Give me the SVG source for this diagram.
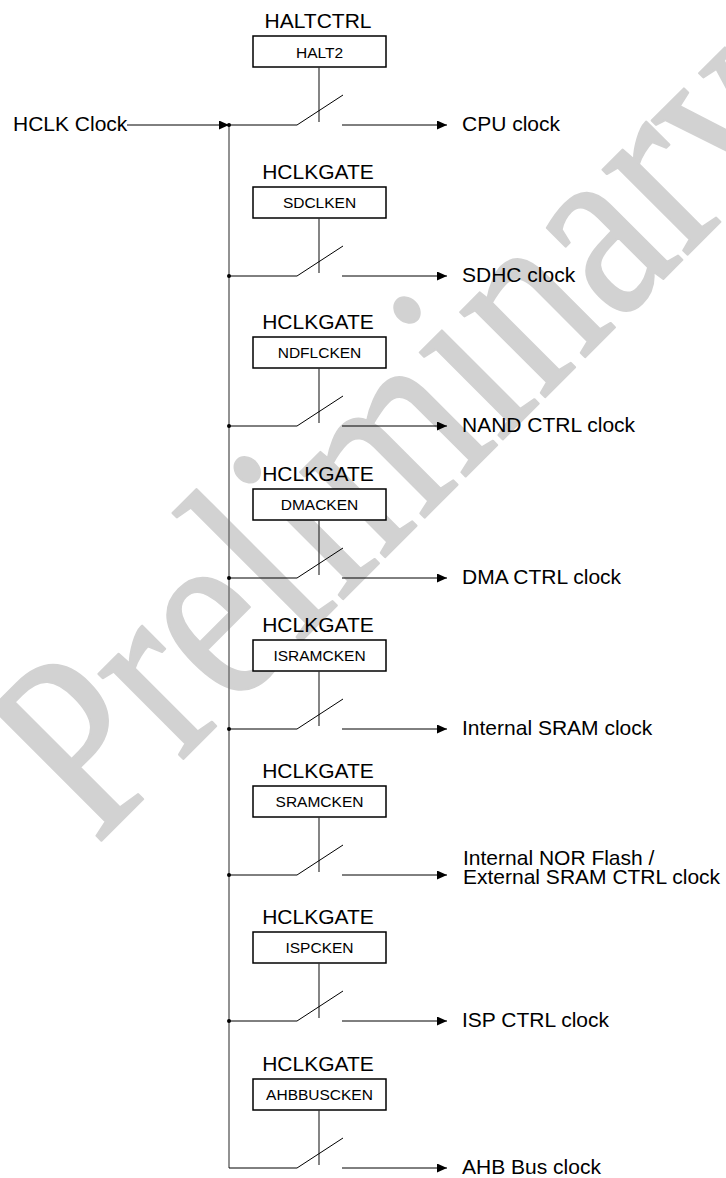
<svg xmlns="http://www.w3.org/2000/svg" width="726" height="1178" viewBox="0 0 726 1178">
<style>
text{font-family:"Liberation Sans",Arial,sans-serif;fill:#000}
.t{font-size:21px;text-anchor:middle}
.b{font-size:15.5px;text-anchor:middle}
.o{font-size:21px}
.box{fill:#fff;stroke:#000;stroke-width:1.5}
.w{stroke:#000;stroke-width:1;fill:none}
.c{stroke:#333;stroke-width:1.2;fill:none}
.bus{stroke:#777;stroke-width:1.6;fill:none}
.wm{font-family:"Liberation Serif","Times New Roman",serif;font-size:214px;fill:#d2d2d2;stroke:#d2d2d2;stroke-width:2;stroke-linejoin:round}
</style>
<defs>
<marker id="ah" markerWidth="10" markerHeight="9" refX="10" refY="4.5" orient="auto" markerUnits="userSpaceOnUse">
<path d="M0,0 L10,4.5 L0,9 Z" fill="#000"/>
</marker>
</defs>
<rect width="726" height="1178" fill="#fff"/>
<g id="watermark">
<text class="wm" transform="translate(96,846) rotate(-45) scale(1,1.22)">Preliminary</text>
</g>
<g id="connectors">
<line class="bus" x1="229" y1="125" x2="229" y2="1168"/>
<line class="w" x1="127" y1="125" x2="229" y2="125" marker-end="url(#ah)"/>
<path class="w" d="M229,1168 H297"/>
</g>
<g id="in"><text class="o" x="13" y="131">HCLK Clock</text></g>
<g id="cpu">
<text class="t" x="318" y="28">HALTCTRL</text>
<rect class="box" x="253" y="36" width="133" height="31"/>
<text class="b" x="319.5" y="57.5">HALT2</text>
<line class="c" x1="319" y1="67" x2="319" y2="122"/>
<circle cx="229" cy="125" r="2"/>
<path class="w" d="M229,125 H297 L343,95"/>
<line class="w" x1="342" y1="125" x2="447" y2="125" marker-end="url(#ah)"/>
<text class="o" x="462" y="131">CPU clock</text>
</g>
<g id="sdhc">
<text class="t" x="318" y="179">HCLKGATE</text>
<rect class="box" x="253" y="187" width="133" height="31"/>
<text class="b" x="319.5" y="208">SDCLKEN</text>
<line class="c" x1="319" y1="218" x2="319" y2="273"/>
<circle cx="229" cy="276" r="2"/>
<path class="w" d="M229,276 H297 L343,246"/>
<line class="w" x1="342" y1="276" x2="447" y2="276" marker-end="url(#ah)"/>
<text class="o" x="462" y="282">SDHC clock</text>
</g>
<g id="nand">
<text class="t" x="318" y="329">HCLKGATE</text>
<rect class="box" x="253" y="337" width="133" height="31"/>
<text class="b" x="319.5" y="358">NDFLCKEN</text>
<line class="c" x1="319" y1="368" x2="319" y2="423"/>
<circle cx="229" cy="426" r="2"/>
<path class="w" d="M229,426 H297 L343,396"/>
<line class="w" x1="342" y1="426" x2="447" y2="426" marker-end="url(#ah)"/>
<text class="o" x="462" y="432">NAND CTRL clock</text>
</g>
<g id="dma">
<text class="t" x="318" y="481">HCLKGATE</text>
<rect class="box" x="253" y="489" width="133" height="31"/>
<text class="b" x="319.5" y="510">DMACKEN</text>
<line class="c" x1="319" y1="520" x2="319" y2="575"/>
<circle cx="229" cy="578" r="2"/>
<path class="w" d="M229,578 H297 L343,548"/>
<line class="w" x1="342" y1="578" x2="447" y2="578" marker-end="url(#ah)"/>
<text class="o" x="462" y="584">DMA CTRL clock</text>
</g>
<g id="isram">
<text class="t" x="318" y="632">HCLKGATE</text>
<rect class="box" x="253" y="640" width="133" height="31"/>
<text class="b" x="319.5" y="661">ISRAMCKEN</text>
<line class="c" x1="319" y1="671" x2="319" y2="726"/>
<circle cx="229" cy="729" r="2"/>
<path class="w" d="M229,729 H297 L343,699"/>
<line class="w" x1="342" y1="729" x2="447" y2="729" marker-end="url(#ah)"/>
<text class="o" x="462" y="735">Internal SRAM clock</text>
</g>
<g id="sram">
<text class="t" x="318" y="778">HCLKGATE</text>
<rect class="box" x="253" y="786" width="133" height="31"/>
<text class="b" x="319.5" y="807">SRAMCKEN</text>
<line class="c" x1="319" y1="817" x2="319" y2="872"/>
<circle cx="229" cy="875" r="2"/>
<path class="w" d="M229,875 H297 L343,845"/>
<line class="w" x1="342" y1="875" x2="447" y2="875" marker-end="url(#ah)"/>
<text class="o" x="463" y="865">Internal NOR Flash /</text>
<text class="o" x="463" y="884">External SRAM CTRL clock</text>
</g>
<g id="isp">
<text class="t" x="318" y="924">HCLKGATE</text>
<rect class="box" x="253" y="932" width="133" height="31"/>
<text class="b" x="319.5" y="953">ISPCKEN</text>
<line class="c" x1="319" y1="963" x2="319" y2="1018"/>
<circle cx="229" cy="1021" r="2"/>
<path class="w" d="M229,1021 H297 L343,991"/>
<line class="w" x1="342" y1="1021" x2="447" y2="1021" marker-end="url(#ah)"/>
<text class="o" x="462" y="1027">ISP CTRL clock</text>
</g>
<g id="ahb">
<text class="t" x="318" y="1071">HCLKGATE</text>
<rect class="box" x="253" y="1079" width="133" height="31"/>
<text class="b" x="319.5" y="1100">AHBBUSCKEN</text>
<line class="c" x1="319" y1="1110" x2="319" y2="1165"/>
<path class="w" d="M297,1168 L343,1138"/>
<line class="w" x1="342" y1="1168" x2="447" y2="1168" marker-end="url(#ah)"/>
<text class="o" x="462" y="1174">AHB Bus clock</text>
</g>
</svg>
